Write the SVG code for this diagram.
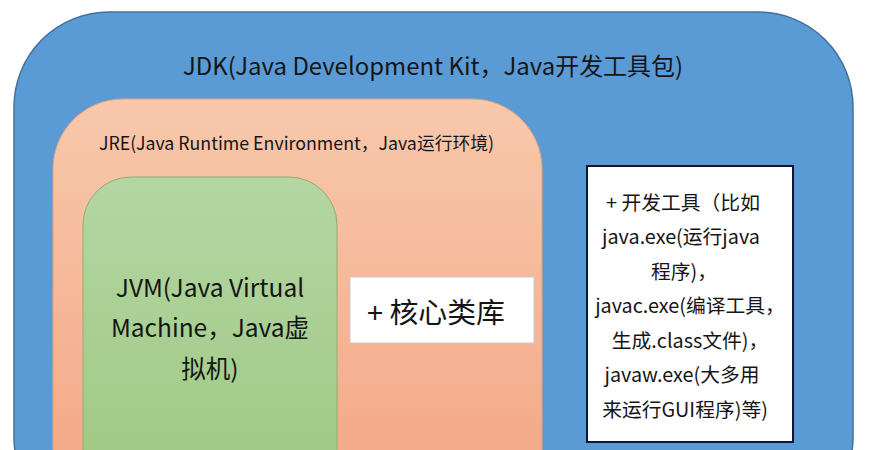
<svg xmlns="http://www.w3.org/2000/svg" width="870" height="450" viewBox="0 0 870 450">
<defs>
<linearGradient id="gJre" x1="0" y1="0" x2="0" y2="1">
<stop offset="0" stop-color="#F8C8AB"/>
<stop offset="1" stop-color="#F3A583"/>
</linearGradient>
<linearGradient id="gJvm" x1="0" y1="0" x2="0" y2="1">
<stop offset="0" stop-color="#B4D6A4"/>
<stop offset="1" stop-color="#9CC87E"/>
</linearGradient>
<style>
text{font-family:"Noto Sans CJK SC","Microsoft YaHei","Liberation Sans",sans-serif;fill:#151515;}
.title{font-size:24px;}
.sub{font-size:18px;}
.big{font-size:24.5px;text-anchor:middle;}
.dev{font-size:19.8px;text-anchor:middle;}
</style>
</defs>
<rect width="870" height="450" fill="#ffffff"/>
<g id="jdk">
<rect x="14" y="12" width="839" height="520" rx="95" ry="95" fill="#5B9BD5" stroke="#41719C" stroke-width="1.5"/>
<text class="title" x="183" y="75" textLength="500" lengthAdjust="spacingAndGlyphs">JDK(Java Development Kit，Java开发工具包)</text>
</g>
<g id="jre">
<rect x="53" y="99" width="489" height="420" rx="70" ry="70" fill="url(#gJre)" stroke="#E8A07A" stroke-width="1"/>
<text class="sub" x="99" y="150" textLength="395" lengthAdjust="spacingAndGlyphs">JRE(Java Runtime Environment，Java运行环境)</text>
</g>
<g id="jvm">
<rect x="83" y="177" width="254" height="340" rx="48" ry="48" fill="url(#gJvm)" stroke="#90AE6E" stroke-width="1"/>
<text class="big" x="210" y="297">JVM(Java Virtual</text>
<text class="big" x="210" y="337">Machine，Java虚</text>
<text class="big" x="210" y="378">拟机)</text>
</g>
<g id="corelib">
<rect x="350" y="277" width="184" height="66" fill="#ffffff" stroke="#C8C8C8" stroke-width="1"/>
<text x="367" y="323" textLength="138" lengthAdjust="spacingAndGlyphs" style="font-size:28px">+ 核心类库</text>
</g>
<g id="devtools">
<rect x="587" y="166" width="206" height="276" fill="#ffffff" stroke="#0F1730" stroke-width="2"/>
<text class="dev" x="683" y="210">+ 开发工具（比如</text>
<text class="dev" x="681" y="244">java.exe(运行java</text>
<text class="dev" x="684" y="279">程序)，</text>
<text class="dev" x="690" y="313">javac.exe(编译工具，</text>
<text class="dev" x="690" y="348">生成.class文件)，</text>
<text class="dev" x="682" y="382">javaw.exe(大多用</text>
<text class="dev" x="685" y="417">来运行GUI程序)等)</text>
</g>
<g id="connectors"></g>
</svg>
